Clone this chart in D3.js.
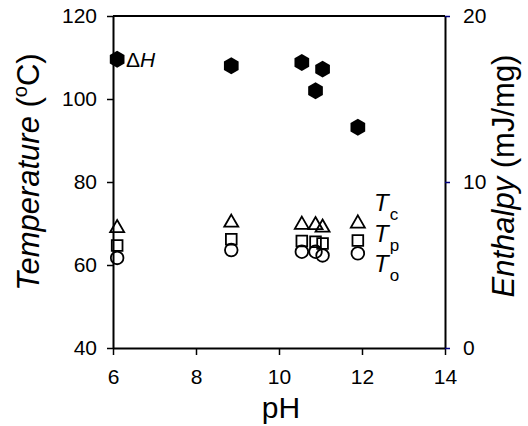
<!DOCTYPE html>
<html>
<head>
<meta charset="utf-8">
<script src="https://cdn.jsdelivr.net/npm/d3@7"></script>
<style>
  body { margin: 0; background: #fff; }
  text { font-family: "Liberation Sans", Arial, sans-serif; fill: #000; }
</style>
</head>
<body>
<div id="chart"></div>
<script>
// donnees
const pH = [6.1, 8.85, 10.55, 10.88, 11.05, 11.9];
const Tc = [68.9, 70.2, 69.7, 69.6, 69.0, 70.0];
const Tp = [64.7, 66.2, 65.8, 65.6, 65.2, 65.9];
const To = [61.7, 63.6, 63.2, 63.2, 62.3, 62.8];
const dH = [17.4, 17.0, 17.2, 15.5, 16.8, 13.3];

const xTicks = [6, 8, 10, 12, 14];
const tTicks = [40, 60, 80, 100, 120];
const hTicks = [0, 10, 20];

const width = 528, height = 426;
const mLeft = 113, mRight = 445, mTop = 16, mBottom = 348;

const svg = d3.select("#chart")
  .append("svg")
  .attr("width", width)
  .attr("height", height);

//echelles
const x = d3.scaleLinear().domain([6, 14]).range([mLeft, mRight]);
const yT = d3.scaleLinear().domain([40, 120]).range([mBottom, mTop]);
const yH = d3.scaleLinear().domain([0, 20]).range([mBottom, mTop]);

//axes
const axisB = svg.append("g")
  .attr("transform", `translate(0,${mBottom})`)
  .call(d3.axisBottom(x).tickValues(xTicks).tickSize(7).tickPadding(14).tickSizeOuter(0));

const axisL = svg.append("g")
  .attr("transform", `translate(${mLeft},0)`)
  .call(d3.axisLeft(yT).tickValues(tTicks).tickSize(6).tickPadding(10).tickSizeOuter(0));

const axisR = svg.append("g")
  .attr("transform", `translate(${mRight},0)`)
  .call(d3.axisRight(yH).tickValues(hTicks).tickSize(5).tickPadding(13).tickSizeOuter(0));

[axisB, axisL, axisR].forEach(a => {
  a.selectAll("text").style("font-size", "21px").attr("fill", "#000");
  a.select(".domain").attr("stroke", "#000").attr("stroke-width", 2);
  a.selectAll(".tick line").attr("stroke", "#000").attr("stroke-width", 1.5);
});
axisR.selectAll(".tick line").attr("stroke", "#000080");
axisB.selectAll("text").attr("dy", "0.71em");

//ligne du haut
svg.append("line")
  .attr("x1", mLeft).attr("x2", mRight)
  .attr("y1", mTop).attr("y2", mTop)
  .attr("stroke", "#000").attr("stroke-width", 2);

//titres
svg.append("text")
  .attr("x", 281).attr("y", 418)
  .attr("text-anchor", "middle")
  .style("font-size", "30px")
  .text("pH");

const tl = svg.append("text")
  .attr("transform", "translate(39,172) rotate(-90)")
  .attr("text-anchor", "middle")
  .style("font-size", "31px");
tl.append("tspan").style("font-style", "italic").text("Temperature");
tl.append("tspan").text(" (");
tl.append("tspan").attr("dy", -12).style("font-size", "20px").text("o");
tl.append("tspan").attr("dy", 12).text("C)");

const tr = svg.append("text")
  .attr("transform", "translate(514,176) rotate(-90)")
  .attr("text-anchor", "middle")
  .style("font-size", "31px");
tr.append("tspan").style("font-style", "italic").text("Enthalpy");
tr.append("tspan").text(" (mJ/mg)");

//symboles
const hexagon = {
  draw(context, size) {
    const r = Math.sqrt(size);
    for (let i = 0; i < 6; i++) {
      const a = Math.PI / 2 + i * Math.PI / 3;
      const px = r * Math.cos(a), py = r * Math.sin(a);
      if (i === 0) context.moveTo(px, py); else context.lineTo(px, py);
    }
    context.closePath();
  }
};

const series = [
  {vals: Tp, sym: d3.symbol().type(d3.symbolSquare).size(115)},
  {vals: Tc, sym: d3.symbol().type(d3.symbolTriangle).size(85)},
  {vals: To, sym: d3.symbol().type(d3.symbolCircle).size(125)}
];

series.forEach(s => {
  svg.append("g")
    .selectAll("path")
    .data(pH)
    .enter()
    .append("path")
    .attr("transform", (d, i) => `translate(${x(d)},${yT(s.vals[i])})`)
    .attr("d", s.sym)
    .attr("fill", "none")
    .attr("stroke", "#000")
    .attr("stroke-width", 1.8);
});

svg.append("g")
  .selectAll("path")
  .data(pH)
  .enter()
  .append("path")
  .attr("transform", (d, i) => `translate(${x(d)},${yH(dH[i])})`)
  .attr("d", d3.symbol().type(hexagon).size(72))
  .attr("fill", "#000");

//etiquettes
const lh = svg.append("text").attr("x", 126).attr("y", 67).style("font-size", "21px");
lh.append("tspan").text("Δ");
lh.append("tspan").style("font-style", "italic").text("H");

const labels = [["c", 211], ["p", 242], ["o", 272]];
labels.forEach(([sub, yy]) => {
  const t = svg.append("text").attr("x", 374).attr("y", yy).style("font-size", "24px");
  t.append("tspan").style("font-style", "italic").text("T");
  t.append("tspan").attr("dy", 9).attr("dx", 1).style("font-size", "17px").text(sub);
});
</script>
</body>
</html>
